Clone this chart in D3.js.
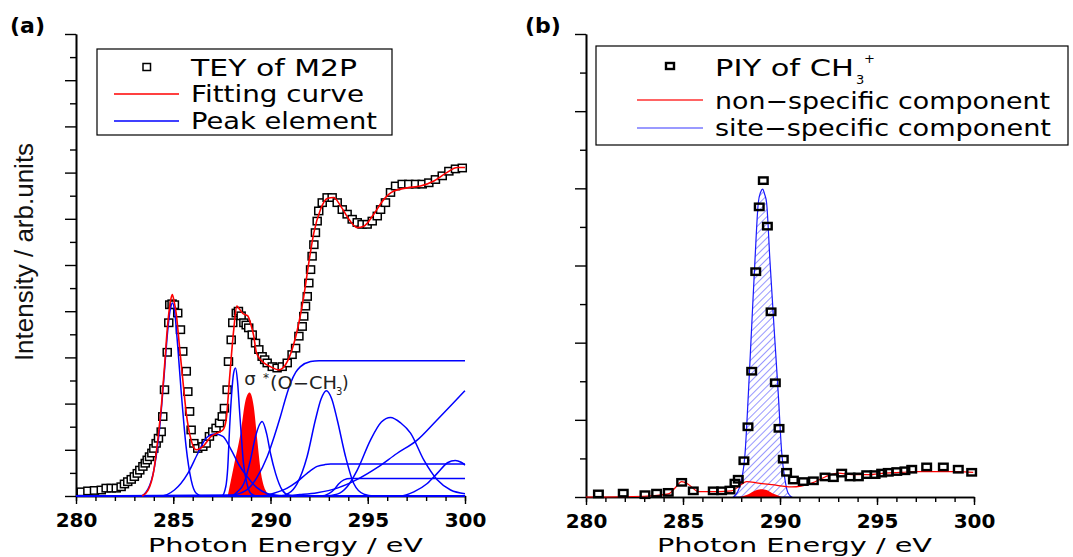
<!DOCTYPE html>
<html><head><meta charset="utf-8">
<script src="https://cdn.jsdelivr.net/npm/d3@7"></script>
<style>body{margin:0;background:#fff}</style>
</head><body>
<svg id="c" width="1073" height="557"></svg>
<script>
// ---------- data ----------
const xMajor = [280, 285, 290, 295, 300];
const xMinor = d3.range(280, 301, 1);
const yMajorA = d3.range(0, 11, 1), yMinorA = d3.range(0.5, 10, 1);
const yMajorB = d3.range(0, 7, 1), yMinorB = d3.range(0.5, 6, 1);

// Panel (a): TEY of M2P
const teyData = [[280.27,0.09],[280.61,0.11],[280.95,0.12],[281.3,0.13],[281.55,0.17],[281.81,0.17],[282.07,0.17],[282.32,0.2],[282.49,0.26],[282.66,0.31],[282.84,0.36],[283.0,0.42],[283.15,0.49],[283.28,0.56],[283.44,0.64],[283.56,0.71],[283.66,0.78],[283.78,0.85],[283.9,0.93],[284.0,1.03],[284.12,1.14],[284.24,1.25],[284.38,1.39],[284.46,1.72],[284.55,2.3],[284.69,3.11],[284.77,3.75],[284.82,4.14],[284.94,4.16],[285.06,4.14],[285.23,3.96],[285.37,3.6],[285.49,3.13],[285.67,2.7],[285.75,2.26],[285.84,1.83],[285.92,1.43],[286.06,1.14],[286.26,1.03],[286.52,1.07],[286.69,1.14],[286.86,1.29],[287.03,1.39],[287.2,1.47],[287.38,1.58],[287.52,1.72],[287.63,1.9],[287.77,2.3],[287.84,2.91],[287.98,3.38],[288.06,3.75],[288.24,3.96],[288.35,4.0],[288.49,3.9],[288.63,3.75],[288.75,3.7],[288.88,3.64],[289.06,3.49],[289.23,3.31],[289.4,3.17],[289.57,3.02],[289.7,2.95],[289.83,2.88],[290.09,2.8],[290.34,2.77],[290.6,2.8],[290.86,2.88],[291.11,3.06],[291.29,3.2],[291.46,3.46],[291.63,3.67],[291.71,3.89],[291.8,4.11],[291.89,4.32],[291.97,4.61],[292.06,4.9],[292.14,5.19],[292.23,5.44],[292.31,5.7],[292.4,5.95],[292.48,6.17],[292.66,6.35],[292.91,6.46],[293.17,6.46],[293.43,6.35],[293.69,6.2],[293.94,6.1],[294.2,5.99],[294.46,5.92],[294.71,5.88],[294.97,5.88],[295.23,5.95],[295.49,6.06],[295.66,6.2],[295.91,6.35],[296.17,6.57],[296.43,6.71],[296.77,6.75],[297.11,6.75],[297.46,6.75],[297.8,6.75],[298.14,6.78],[298.48,6.85],[298.83,6.93],[299.17,7.03],[299.51,7.08],[299.86,7.1]];

const fitCurve = [[283.4,0.0],[283.7,0.12],[284.0,0.55],[284.2,1.2],[284.4,2.0],[284.55,2.8],[284.7,3.65],[284.85,4.2],[284.95,4.36],[285.05,4.2],[285.15,3.96],[285.32,3.24],[285.49,2.52],[285.67,1.79],[285.92,1.21],[286.18,1.0],[286.52,1.07],[286.95,1.29],[287.29,1.37],[287.55,1.43],[287.72,1.65],[287.89,2.52],[288.11,3.6],[288.27,4.11],[288.4,4.05],[288.58,3.95],[288.83,3.9],[289.0,3.7],[289.14,3.46],[289.26,3.13],[289.4,3.0],[289.66,2.88],[290.0,2.8],[290.43,2.73],[290.77,2.84],[291.11,3.17],[291.46,3.75],[291.71,4.32],[291.97,5.05],[292.23,5.7],[292.57,6.2],[292.91,6.44],[293.25,6.46],[293.6,6.28],[294.03,5.99],[294.46,5.81],[294.8,5.84],[295.31,6.1],[295.83,6.42],[296.34,6.6],[297.03,6.67],[297.71,6.71],[298.4,6.82],[299.06,7.0],[299.6,7.11],[300,7.11]];

const sigmaPeak = [[287.8,0],[288.11,0.64],[288.46,1.36],[288.72,2.08],[288.85,2.22],[288.92,2.24],[289.0,2.2],[289.14,1.93],[289.32,1.21],[289.49,0.56],[289.74,0.13],[290.0,0]];

const peak1 = [[280,0],[283.3,0],[283.7,0.15],[284.04,0.64],[284.29,1.43],[284.51,2.5],[284.72,3.6],[284.85,4.05],[284.97,4.18],[285.06,4.03],[285.23,3.24],[285.4,2.3],[285.66,1.07],[285.92,0.35],[286.18,0.06],[286.5,0],[300,0]];
const peak2 = [[280,0],[284.3,0],[285.06,0.13],[285.75,0.49],[286.26,0.92],[286.69,1.25],[287.12,1.34],[287.55,1.29],[287.98,1.0],[288.4,0.66],[288.8,0.42],[289.3,0.18],[289.8,0.06],[290.5,0.01],[291,0],[300,0]];
const peak3 = [[280,0],[287.5,0],[287.7,0.2],[287.8,0.6],[287.9,1.5],[288.0,2.2],[288.1,2.65],[288.2,2.77],[288.3,2.5],[288.4,1.9],[288.5,1.3],[288.6,0.75],[288.8,0.25],[289.0,0.05],[289.3,0],[300,0]];
const peak4 = [[280,0],[288.0,0],[288.29,0.09],[288.63,0.27],[288.97,0.78],[289.23,1.29],[289.57,1.61],[289.8,1.35],[290.0,0.92],[290.26,0.49],[290.6,0.13],[290.94,0.02],[291.3,0],[300,0]];
const step1 = [[280,0],[288.0,0.02],[288.78,0.13],[289.3,0.4],[289.83,0.85],[290.2,1.3],[290.51,1.72],[290.8,2.15],[291.03,2.44],[291.3,2.68],[291.54,2.8],[292.06,2.91],[292.5,2.93],[300,2.93]];
const peak5 = [[280,0],[290.5,0],[290.94,0.06],[291.37,0.27],[291.88,0.85],[292.31,1.65],[292.6,2.1],[292.87,2.28],[293.15,2.1],[293.43,1.65],[293.86,0.85],[294.28,0.27],[294.8,0.04],[295.3,0],[300,0]];
const peak6 = [[280,0],[292.8,0],[293.43,0.04],[293.94,0.2],[294.46,0.56],[295.14,1.21],[295.7,1.6],[296.17,1.7],[296.7,1.58],[297.2,1.36],[297.88,0.78],[298.57,0.35],[299.26,0.13],[300,0.05]];
const peak7 = [[280,0],[296.68,0],[297.37,0.09],[298.06,0.27],[298.57,0.49],[299.1,0.72],[299.5,0.77],[299.8,0.73],[300,0.67]];
const step2 = [[280,0],[289.5,0],[290.17,0.06],[290.86,0.17],[291.37,0.31],[291.88,0.49],[292.4,0.64],[292.8,0.68],[293.09,0.69],[300,0.69]];
const step3 = [[280,0],[292.6,0],[293.0,0.05],[293.3,0.15],[293.5,0.26],[293.77,0.35],[294.1,0.38],[300,0.38]];
const ramp1 = [[280,0],[290.5,0],[291.5,0.03],[292.4,0.07],[293.43,0.17],[294.46,0.36],[295.5,0.62],[296.5,0.92],[297.54,1.21],[298.5,1.62],[299.3,1.97],[300,2.28]];
const peakElements = [peak1, peak2, peak3, peak4, step1, peak5, peak6, peak7, step2, step3, ramp1];

// Panel (b): PIY of CH3+
const piyData = [[280.64,0.04],[281.92,0.05],[283.04,0.03],[283.64,0.05],[284.24,0.06],[284.93,0.19],[285.53,0.08],[286.56,0.08],[286.99,0.08],[287.42,0.09],[287.68,0.18],[287.85,0.23],[288.14,0.47],[288.35,0.91],[288.54,1.63],[288.75,2.92],[288.93,3.76],[289.14,4.1],[289.35,3.51],[289.54,2.4],[289.76,1.48],[289.95,0.89],[290.17,0.49],[290.34,0.32],[290.69,0.22],[291.2,0.2],[291.72,0.21],[292.32,0.26],[292.75,0.25],[293.18,0.31],[293.61,0.26],[294.04,0.26],[294.47,0.29],[294.9,0.29],[295.24,0.31],[295.58,0.32],[296.02,0.33],[296.44,0.34],[296.79,0.36],[297.56,0.39],[298.42,0.39],[299.19,0.36],[299.88,0.32]];
const nonSpecific = [[280,0],[283.0,0.01],[284.24,0.04],[284.6,0.12],[284.93,0.2],[285.3,0.16],[285.8,0.07],[286.8,0.07],[287.5,0.08],[287.85,0.13],[288.28,0.2],[288.88,0.18],[289.57,0.16],[290.6,0.13],[291.63,0.18],[292.32,0.26],[293.0,0.31],[293.7,0.29],[294.55,0.29],[295.41,0.31],[296.27,0.32],[297.13,0.33],[298.16,0.33],[299.19,0.33],[299.96,0.32]];
const nonSpecificPeak = [[287.9,0],[288.4,0.04],[288.7,0.08],[289.0,0.1],[289.3,0.09],[289.6,0.05],[290.0,0.01],[290.1,0]];
const siteSpecific = [[287.6,0],[287.8,0.06],[288.0,0.2],[288.2,0.57],[288.37,1.34],[288.54,2.21],[288.71,3.07],[288.88,3.81],[289.0,3.95],[289.11,3.99],[289.2,3.93],[289.31,3.81],[289.48,3.07],[289.69,2.21],[289.91,1.34],[290.09,0.57],[290.26,0.22],[290.4,0.06],[290.6,0]];

// ---------- drawing ----------
const svg = d3.select("#c");
svg.append("rect").attr("width",1073).attr("height",557).attr("fill","#fff");
const defs = svg.append("defs");
const pat = defs.append("pattern").attr("id","hatch").attr("patternUnits","userSpaceOnUse")
  .attr("width",5).attr("height",5).attr("patternTransform","rotate(45)");
pat.append("line").attr("x1",0).attr("y1",0).attr("x2",0).attr("y2",5)
  .attr("stroke","#1a1aff").attr("stroke-width",0.9);

const FONT = "DejaVu Sans";

function axes(x, y, yMaj, yMin) {
  const g = svg.append("g");
  const bottom = y.range()[0];
  const left = x.range()[0];
  g.append("g").attr("transform",`translate(0,${bottom})`)
    .call(d3.axisBottom(x).tickValues(xMinor).tickSize(5).tickFormat("").tickSizeOuter(0));
  const gx = g.append("g").attr("transform",`translate(0,${bottom})`)
    .call(d3.axisBottom(x).tickValues(xMajor).tickSize(8).tickPadding(9).tickFormat(d3.format("d")).tickSizeOuter(0));
  gx.selectAll("text").attr("font-family",FONT).attr("font-weight","bold").attr("font-size",20).attr("fill","#000");
  g.append("g").attr("transform",`translate(${left},0)`)
    .call(d3.axisLeft(y).tickValues(yMin).tickSize(6).tickFormat("").tickSizeOuter(0));
  g.append("g").attr("transform",`translate(${left},0)`)
    .call(d3.axisLeft(y).tickValues(yMaj).tickSize(11).tickFormat("").tickSizeOuter(0));
  g.selectAll("path.domain").attr("stroke","#000").attr("stroke-width",1.6);
  g.selectAll(".tick line").attr("stroke","#000").attr("stroke-width",1.4);
  return g;
}

// ----- Panel (a)
const xA = d3.scaleLinear().domain([280,300]).range([76,465]);
const yA = d3.scaleLinear().domain([0,10]).range([496,34]);
const lineA = d3.line().x(d=>xA(d[0])).y(d=>yA(d[1])).curve(d3.curveMonotoneX);
const areaA = d3.area().x(d=>xA(d[0])).y0(yA(0)).y1(d=>yA(d[1])).curve(d3.curveMonotoneX);

axes(xA, yA, yMajorA, yMinorA);

svg.append("g").selectAll("rect").data(teyData).join("rect")
  .attr("x",d=>xA(d[0])-4).attr("y",d=>yA(d[1])-3.7).attr("width",8).attr("height",7.4)
  .attr("fill","#fff").attr("stroke","#000").attr("stroke-width",1.5);

svg.append("path").datum(sigmaPeak).attr("d",areaA).attr("fill","#ff0000");
svg.append("g").selectAll("path").data(peakElements).join("path")
  .attr("d",lineA).attr("fill","none").attr("stroke","#0000ff").attr("stroke-width",1.5);
svg.append("path").datum(fitCurve).attr("d",lineA).attr("fill","none").attr("stroke","#ff0000").attr("stroke-width",1.6);

// sigma* label
const lab = svg.append("g").attr("font-family",FONT).attr("fill","#222");
lab.append("text").attr("x",250).attr("y",385).attr("text-anchor","middle").attr("font-size",18).text("σ");
lab.append("text").attr("x",263).attr("y",382).attr("font-size",12).text("*");
lab.append("text").attr("x",270).attr("y",389).attr("font-size",17).attr("textLength",67).attr("lengthAdjust","spacingAndGlyphs").text("(O−CH");
lab.append("text").attr("x",336).attr("y",395).attr("font-size",10).text("3");
lab.append("text").attr("x",342).attr("y",389).attr("font-size",17).text(")");

// legend (a)
const legA = svg.append("g").attr("font-family",FONT).attr("font-size",23);
legA.append("rect").attr("x",97).attr("y",49).attr("width",295).attr("height",86).attr("fill","#fff").attr("stroke","#000").attr("stroke-width",1.2);
legA.append("rect").attr("x",143).attr("y",63.5).attr("width",7.5).attr("height",7).attr("fill","#fff").attr("stroke","#000").attr("stroke-width",1.5);
legA.append("line").attr("x1",114).attr("x2",179).attr("y1",94).attr("y2",94).attr("stroke","#ff0000").attr("stroke-width",1.3);
legA.append("line").attr("x1",114).attr("x2",179).attr("y1",121).attr("y2",121).attr("stroke","#0000ff").attr("stroke-width",1.3);
legA.append("text").attr("x",191).attr("y",76).attr("textLength",166).attr("lengthAdjust","spacingAndGlyphs").text("TEY of M2P");
legA.append("text").attr("x",191).attr("y",102).attr("textLength",173).attr("lengthAdjust","spacingAndGlyphs").text("Fitting curve");
legA.append("text").attr("x",191).attr("y",129).attr("textLength",186).attr("lengthAdjust","spacingAndGlyphs").text("Peak element");

// axis titles (a)
svg.append("text").attr("transform","translate(33,252) rotate(-90)").attr("text-anchor","middle")
  .attr("font-family","Liberation Sans").attr("font-size",26).attr("fill","#111").text("Intensity / arb.units");
svg.append("text").attr("x",148).attr("y",552).attr("font-family",FONT).attr("font-size",20)
  .attr("textLength",275).attr("lengthAdjust","spacingAndGlyphs").text("Photon Energy / eV");
svg.append("text").attr("x",10).attr("y",33).attr("font-family",FONT).attr("font-weight","bold").attr("font-size",22).text("(a)");

// ----- Panel (b)
const xB = d3.scaleLinear().domain([280,300]).range([586,974]);
const yB = d3.scaleLinear().domain([0,6]).range([497,34]);
const lineB = d3.line().x(d=>xB(d[0])).y(d=>yB(d[1])).curve(d3.curveMonotoneX);
const areaB = d3.area().x(d=>xB(d[0])).y0(yB(0)).y1(d=>yB(d[1])).curve(d3.curveMonotoneX);

svg.append("path").datum(siteSpecific).attr("d",areaB).attr("fill","url(#hatch)").attr("stroke","#1a1aff").attr("stroke-width",1.2);
svg.append("path").datum(nonSpecificPeak).attr("d",areaB).attr("fill","#ff0000");
axes(xB, yB, yMajorB, yMinorB);
svg.append("path").datum(nonSpecific).attr("d",lineB).attr("fill","none").attr("stroke","#ff0000").attr("stroke-width",1.2);
svg.append("g").selectAll("rect").data(piyData).join("rect")
  .attr("x",d=>xB(d[0])-4.3).attr("y",d=>yB(d[1])-3.2).attr("width",8.6).attr("height",6.4)
  .attr("fill","none").attr("stroke","#000").attr("stroke-width",2.4);

// legend (b)
const legB = svg.append("g").attr("font-family",FONT).attr("font-size",23);
legB.append("rect").attr("x",596).attr("y",46).attr("width",472).attr("height",99).attr("fill","#fff").attr("stroke","#000").attr("stroke-width",1.2);
legB.append("rect").attr("x",666).attr("y",63).attr("width",8).attr("height",6).attr("fill","none").attr("stroke","#000").attr("stroke-width",2.4);
legB.append("line").attr("x1",637).attr("x2",703).attr("y1",100).attr("y2",100).attr("stroke","#ff3030").attr("stroke-width",1.3);
legB.append("line").attr("x1",637).attr("x2",703).attr("y1",128).attr("y2",128).attr("stroke","#7878ff").attr("stroke-width",1.5);
legB.append("text").attr("x",715).attr("y",76).attr("textLength",139).attr("lengthAdjust","spacingAndGlyphs").text("PIY of CH");
legB.append("text").attr("x",856).attr("y",84).attr("font-size",13).text("3");
legB.append("text").attr("x",864).attr("y",63).attr("font-size",13).text("+");
legB.append("text").attr("x",715).attr("y",109).attr("textLength",335).attr("lengthAdjust","spacingAndGlyphs").text("non−specific component");
legB.append("text").attr("x",715).attr("y",136).attr("textLength",336).attr("lengthAdjust","spacingAndGlyphs").text("site−specific component");

svg.append("text").attr("x",657).attr("y",552).attr("font-family",FONT).attr("font-size",20)
  .attr("textLength",275).attr("lengthAdjust","spacingAndGlyphs").text("Photon Energy / eV");
svg.append("text").attr("x",525).attr("y",33).attr("font-family",FONT).attr("font-weight","bold").attr("font-size",22).text("(b)");
</script>
</body></html>
